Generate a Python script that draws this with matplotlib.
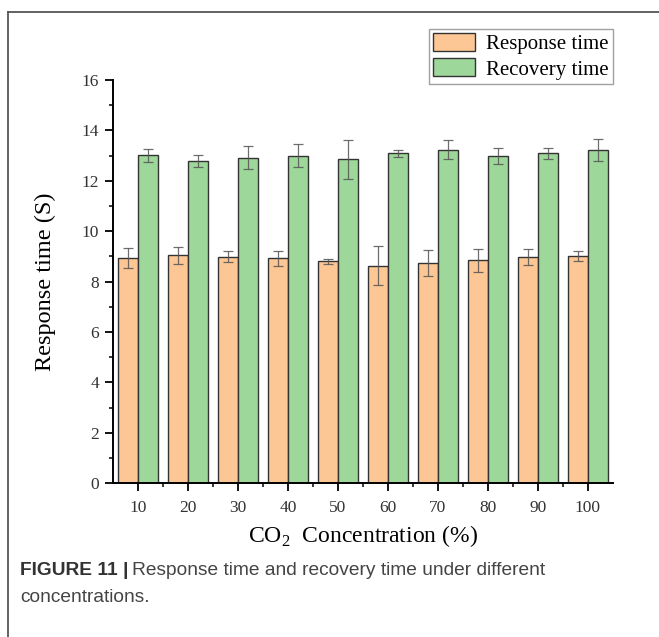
import numpy as np
import matplotlib
matplotlib.use('Agg')
import matplotlib.pyplot as plt
from matplotlib.lines import Line2D
from matplotlib.ticker import MultipleLocator

plt.rcParams['font.family'] = 'Liberation Serif'
plt.rcParams['mathtext.fontset'] = 'custom'
plt.rcParams['mathtext.rm'] = 'Liberation Serif'

# data
concentrations = ['10', '20', '30', '40', '50', '60', '70', '80', '90', '100']
response_time = [8.94, 9.04, 8.98, 8.92, 8.80, 8.64, 8.74, 8.84, 8.98, 9.02]
response_err = [0.41, 0.32, 0.22, 0.30, 0.11, 0.76, 0.50, 0.47, 0.33, 0.20]
recovery_time = [13.02, 12.78, 12.91, 12.99, 12.85, 13.09, 13.24, 12.99, 13.09, 13.22]
recovery_err = [0.26, 0.25, 0.46, 0.46, 0.78, 0.15, 0.38, 0.31, 0.23, 0.44]

fig = plt.figure(figsize=(6.59, 6.37), dpi=100)
ax = fig.add_axes([0.1715, 0.2413, 0.7585, 0.6331])

x = np.arange(len(concentrations))
w = 0.4
err_kw = dict(ecolor='#555555', elinewidth=0.9, capsize=3.5, capthick=0.9, alpha=0.85)
ax.bar(x - w / 2, response_time, w, yerr=response_err, color='#FCC794',
       edgecolor='#333333', linewidth=1.0, error_kw=err_kw, label='Response time')
ax.bar(x + w / 2, recovery_time, w, yerr=recovery_err, color='#9ED79A',
       edgecolor='#333333', linewidth=1.0, error_kw=err_kw, label='Recovery time')

ax.set_xlim(-0.5, len(concentrations) - 0.5)
ax.set_ylim(0, 16)
ax.set_xticks(x)
ax.set_xticklabels(concentrations)
ax.set_xticks(x[:-1] + 0.5, minor=True)
ax.yaxis.set_major_locator(MultipleLocator(2))
ax.yaxis.set_minor_locator(MultipleLocator(1))

for s in ['top', 'right']:
    ax.spines[s].set_visible(False)
for s in ['left', 'bottom']:
    ax.spines[s].set_linewidth(1.4)
ax.tick_params(which='major', direction='out', length=6, width=1.3,
               labelsize=12.5, labelcolor='#333333', pad=4)
ax.tick_params(axis='x', which='major', pad=6)
ax.tick_params(which='minor', direction='out', length=3, width=1.1)

ax.set_ylabel('Response time (S)', fontsize=17.5)
ax.set_xlabel('CO$_2$  Concentration (%)', fontsize=17)
ax.yaxis.set_label_coords(-0.114, 0.5)
ax.xaxis.set_label_coords(0.5, -0.098)

leg = ax.legend(loc='upper right', bbox_to_anchor=(613 / 659, 1 - 29 / 637),
                bbox_transform=fig.transFigure, fontsize=15, frameon=True,
                fancybox=False, edgecolor='#888888', borderaxespad=0,
                borderpad=0.2, handlelength=2.0, handleheight=0.95,
                handletextpad=0.55, labelspacing=0.2)
leg.get_frame().set_linewidth(1.0)

# figure frame (top and left edges only)
fig.add_artist(Line2D([8 / 659, 8 / 659], [0, 1 - 12 / 637], transform=fig.transFigure,
                      color='#555555', linewidth=1.3))
fig.add_artist(Line2D([8 / 659, 1], [1 - 12 / 637, 1 - 12 / 637], transform=fig.transFigure,
                      color='#555555', linewidth=1.3))

# caption
cap_font = ['Liberation Sans', 'DejaVu Sans']
t1 = fig.text(20 / 659, 1 - 575 / 637, 'FIGURE 11 |', family=cap_font, fontsize=13.8,
              fontweight='bold', color='#333333', va='baseline')
fig.canvas.draw()
bb = t1.get_window_extent()
fig.text(bb.x1 / 659 + 4 / 659, 1 - 575 / 637, 'Response time and recovery time under different',
         family=cap_font, fontsize=13.8, color='#444444', va='baseline')
fig.text(20 / 659, 1 - 602 / 637, 'concentrations.', family=cap_font, fontsize=13.8,
         color='#444444', va='baseline')

fig.savefig('out.png', dpi=100)
